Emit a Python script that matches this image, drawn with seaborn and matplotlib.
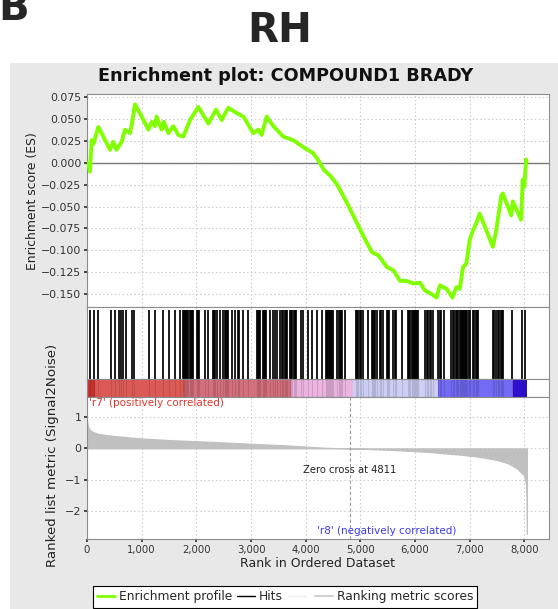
import numpy as np
import pandas as pd
import matplotlib
matplotlib.use("Agg")
import matplotlib.pyplot as plt
from matplotlib.lines import Line2D
from matplotlib.patches import Rectangle
from matplotlib.ticker import FuncFormatter
import seaborn as sns

# running enrichment score (rank, ES)
es_rank = [0, 25, 55, 85, 120, 207, 300, 420, 480, 540, 634, 695, 786, 817, 878, 1000,
           1122, 1183, 1244, 1274, 1366, 1408, 1488, 1579, 1670, 1762, 1884, 2037, 2220,
           2360, 2463, 2585, 2738, 2860, 3043, 3134, 3195, 3287, 3409, 3591, 3774, 3957,
           4140, 4242, 4333, 4455, 4576, 4758, 4939, 5091, 5212, 5333, 5485, 5606, 5727,
           5848, 5970, 6091, 6182, 6303, 6394, 6455, 6576, 6685, 6758, 6818, 6879, 6939,
           7000, 7061, 7121, 7182, 7424, 7485, 7576, 7606, 7758, 7788, 7939, 7970, 8000,
           8030, 8040]
es_val = [0.0, -0.003, -0.010, 0.026, 0.022, 0.041, 0.030, 0.015, 0.024, 0.015, 0.024,
          0.038, 0.034, 0.043, 0.067, 0.053, 0.038, 0.047, 0.042, 0.053, 0.038, 0.047,
          0.034, 0.042, 0.032, 0.030, 0.049, 0.064, 0.045, 0.061, 0.049, 0.063, 0.057,
          0.053, 0.034, 0.038, 0.032, 0.053, 0.042, 0.030, 0.026, 0.018, 0.011, 0.002,
          -0.008, -0.015, -0.025, -0.046, -0.069, -0.088, -0.102, -0.106, -0.119, -0.123,
          -0.135, -0.135, -0.138, -0.137, -0.146, -0.150, -0.154, -0.140, -0.144, -0.154,
          -0.142, -0.144, -0.119, -0.115, -0.088, -0.077, -0.069, -0.058, -0.096, -0.077,
          -0.038, -0.035, -0.060, -0.044, -0.065, -0.019, -0.027, 0.004, 0.002]

# gene set hits (rank positions)
hit_ranks = [55, 128, 207, 433, 512, 591, 628, 664, 713, 817, 859, 1139, 1243, 1395, 1505,
             1609, 1700, 1761, 1776, 1792, 1810, 1834, 1855, 1876, 1897, 1918, 1940, 2005,
             2025, 2054, 2157, 2218, 2297, 2320, 2345, 2370, 2431, 2492, 2515, 2538, 2560,
             2583, 2645, 2706, 2767, 2785, 2858, 2949, 3101, 3122, 3142, 3162, 3211, 3232,
             3252, 3272, 3345, 3406, 3436, 3467, 3528, 3558, 3589, 3619, 3640, 3662, 3711,
             3733, 3755, 3777, 3798, 3820, 3906, 3954, 4046, 4107, 4198, 4290, 4363, 4383,
             4403, 4423, 4443, 4463, 4483, 4503, 4576, 4600, 4625, 4650, 4673, 4716, 4917,
             4940, 4960, 4990, 5020, 5051, 5143, 5204, 5226, 5250, 5272, 5295, 5356, 5386,
             5417, 5478, 5500, 5527, 5600, 5625, 5648, 5770, 5874, 5895, 5916, 5937, 5958,
             5979, 6000, 6020, 6040, 6057, 6179, 6210, 6240, 6270, 6300, 6331, 6422, 6452,
             6483, 6526, 6666, 6690, 6715, 6740, 6765, 6788, 6818, 6838, 6858, 6878, 6898,
             6918, 6938, 6958, 6980, 7001, 7062, 7085, 7110, 7130, 7153, 7428, 7452, 7476,
             7519, 7540, 7565, 7590, 7610, 7781, 7964, 8006]

# ranked list metric (Signal2Noise)
metric_rank = [0, 20, 50, 100, 200, 350, 550, 1000, 1600, 2300, 3000, 3620, 4360, 4811,
               5570, 6200, 6870, 7200, 7520, 7700, 7860, 7990, 8030, 8040, 8046]
metric_val = [0.9, 0.7, 0.6, 0.53, 0.47, 0.43, 0.39, 0.32, 0.26, 0.21, 0.15, 0.1, 0.02, 0.0,
              -0.05, -0.11, -0.21, -0.28, -0.38, -0.48, -0.64, -0.86, -1.15, -1.6, -2.75]

# colour bar under the hits
bar_edges = [0, 150, 1800, 3740, 4870, 6420, 7790, 8040]
bar_colors = ["#c8322d", "#dc5a55", "#d46f7c", "#ebb4e1", "#cdcdf5", "#736af5", "#2d0fcd"]

zero_cross = 4811
es_ticks = [-0.150, -0.125, -0.100, -0.075, -0.050, -0.025, 0.000, 0.025, 0.050, 0.075]
metric_ticks = [-2, -1, 0, 1]
rank_ticks = [0, 1000, 2000, 3000, 4000, 5000, 6000, 7000, 8000]

sns.set_theme(style="white")
plt.rcParams["font.family"] = ["DejaVu Sans"]

W, H = 558, 609
fig = plt.figure(figsize=(W / 100, H / 100), dpi=100)
fig.patch.set_facecolor("white")


def rect(l, t, r, b):
    return [l / W, 1 - b / H, (r - l) / W, (b - t) / H]


# grey GSEA panel
fig.patches.append(Rectangle((10 / W, 0), 1 - 10 / W, (H - 63) / H, transform=fig.transFigure,
                             facecolor="#e8e8e8", edgecolor="none", zorder=-10))

fig.text(-2 / W, 1 - 20 / H, "B", fontsize=29, fontweight="bold", va="baseline", ha="left")
fig.text(280 / W, 1 - 42 / H, "RH", fontsize=29, fontweight="bold", va="baseline", ha="center")
fig.text(286 / W, 1 - 76 / H, "Enrichment plot: COMPOUND1 BRADY", fontsize=12.7,
         fontweight="bold", va="center", ha="center", color="#111111")

ax_es = fig.add_axes(rect(87, 94, 549, 307))
ax_hits = fig.add_axes(rect(87, 307, 549, 379))
ax_bar = fig.add_axes(rect(87, 379, 549, 397))
ax_rank = fig.add_axes(rect(87, 397, 549, 539))

xmax = 8450
grid_kw = dict(color="#cfcfcf", linewidth=0.8, linestyle=(0, (1.5, 2)))

for ax in (ax_es, ax_hits, ax_bar, ax_rank):
    ax.set_facecolor("white")
    ax.set_xlim(0, xmax)
    for s in ax.spines.values():
        s.set_color("#8c8c8c")
        s.set_linewidth(0.8)

# enrichment profile
ax_es.set_ylim(-0.1648, 0.0788)
ax_es.set_xticks(rank_ticks)
ax_es.set_yticks(es_ticks)
ax_es.grid(True, **grid_kw)
ax_es.axhline(0, color="#7a7a7a", linewidth=1.0, zorder=1)
es_df = pd.DataFrame({"rank": es_rank, "es": es_val})
sns.lineplot(data=es_df, x="rank", y="es", ax=ax_es, color="#80ff00", linewidth=2.8, zorder=3)
ax_es.set_xlabel("")
ax_es.set_ylabel("")
ax_es.tick_params(axis="x", labelbottom=False, length=0)
ax_es.tick_params(axis="y", labelsize=7.8, length=2, left=True, colors="#333333", pad=2)
ax_es.yaxis.set_major_formatter(FuncFormatter(lambda v, p: f"{v:.3f}".replace("-", "\u2212")))

# hits
ax_hits.set_ylim(0, 1.05)
ax_hits.set_xticks(rank_ticks)
ax_hits.grid(True, axis="x", **grid_kw)
ax_hits.vlines(hit_ranks, 0, 1, color="black", linewidth=1.25)
ax_hits.set_yticks([])
ax_hits.tick_params(axis="x", labelbottom=False, length=0)

# colour bar
ax_bar.set_ylim(0, 1)
for i in range(len(bar_colors)):
    ax_bar.axvspan(bar_edges[i], bar_edges[i + 1], color=bar_colors[i], linewidth=0)
ax_bar.vlines(hit_ranks, 0, 1, color="black", linewidth=0.8, alpha=0.12)
ax_bar.set_xticks([])
ax_bar.set_yticks([])

# ranked list metric
ax_rank.set_ylim(-2.91, 1.65)
ax_rank.set_xticks(rank_ticks)
ax_rank.set_yticks(metric_ticks)
ax_rank.grid(True, **grid_kw)
ax_rank.fill_between(metric_rank, 0, metric_val, color="#c0c0c0", edgecolor="#c0c0c0",
                     linewidth=0.8, zorder=2)
ax_rank.axvline(zero_cross, color="#9a9a9a", linewidth=0.8, linestyle=(0, (3, 2)), zorder=3)
ax_rank.tick_params(axis="both", labelsize=7.3, length=2, bottom=True, left=True,
                    colors="#333333", pad=2)
ax_rank.tick_params(axis="y", labelsize=8)
ax_rank.xaxis.set_major_formatter(FuncFormatter(lambda v, p: f"{int(v):,}"))
ax_rank.yaxis.set_major_formatter(FuncFormatter(lambda v, p: f"{int(v)}".replace("-", "\u2212")))
ax_rank.set_xlabel("Rank in Ordered Dataset", fontsize=9, color="#222222", labelpad=2)

ax_rank.text(0.004, 0.99, "'r7' (positively correlated)", transform=ax_rank.transAxes,
             ha="left", va="top", fontsize=7.45, color="#e0342c")
ax_rank.text(zero_cross, -0.7, "Zero cross at 4811", ha="center", va="center",
             fontsize=7.2, color="#222222")
ax_rank.text(5485, -2.65, "'r8' (negatively correlated)", ha="center", va="center",
             fontsize=7.5, color="#3c3ce6")

fig.text(33 / W, 1 - 201 / H, "Enrichment score (ES)", rotation=90, ha="center",
         va="center", fontsize=8.9, color="#222222")
fig.text(53 / W, 1 - 455 / H, "Ranked list metric (Signal2Noise)", rotation=90,
         ha="center", va="center", fontsize=9.6, color="#222222")

handles = [Line2D([], [], color="#80ff00", linewidth=2),
           Line2D([], [], color="black", linewidth=1),
           Line2D([], [], color="#eeeeee", linewidth=1),
           Line2D([], [], color="#c8c8c8", linewidth=1.2)]
labels = ["Enrichment profile", "Hits", "", "Ranking metric scores"]
leg = fig.legend(handles, labels, loc="upper center", bbox_to_anchor=(285 / W, 1 - 586 / H),
                 ncol=4, fontsize=8.8, frameon=True, fancybox=False, framealpha=1,
                 edgecolor="black", handlelength=1.5, handletextpad=0.3, columnspacing=0.4,
                 borderpad=0.35, borderaxespad=0)
leg.get_frame().set_linewidth(0.8)

fig.savefig("out.png", dpi=100)
